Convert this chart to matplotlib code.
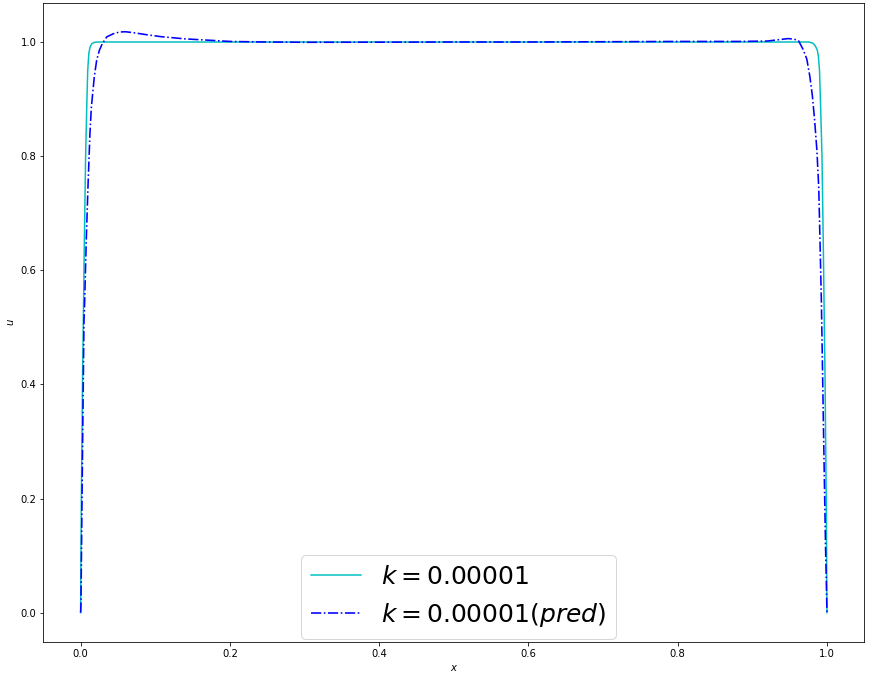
import matplotlib
matplotlib.use("Agg")
import matplotlib.pyplot as plt

# exact solution, k = 0.00001
x_exact = [0.0, 0.0005, 0.001, 0.0018, 0.0025, 0.0036, 0.005, 0.0067, 0.0082, 0.0095,
           0.011, 0.0126, 0.015, 0.018, 0.022, 0.1, 0.3, 0.5, 0.7, 0.9, 0.976,
           0.981, 0.984, 0.987, 0.9885, 0.99, 0.9915, 0.9933, 0.995, 0.9964, 0.9975,
           0.9982, 0.999, 0.9995, 1.0]
u_exact = [0.0, 0.1, 0.2, 0.3, 0.4, 0.51, 0.65, 0.80, 0.886, 0.95,
           0.98, 0.991, 0.997, 0.9993, 1.0, 1.0, 1.0, 1.0, 1.0, 1.0, 1.0,
           0.998, 0.994, 0.986, 0.975, 0.95, 0.886, 0.80, 0.65, 0.51, 0.4,
           0.3, 0.2, 0.1, 0.0]

# network prediction
x_pred = [0.0, 0.0004, 0.0015, 0.0027, 0.0045, 0.0054, 0.0075, 0.0098, 0.0125, 0.0144,
          0.0184, 0.0215, 0.025, 0.029, 0.035, 0.044, 0.052, 0.06, 0.07, 0.09, 0.107,
          0.14, 0.174, 0.2, 0.25, 0.3, 0.4, 0.5, 0.6, 0.7, 0.8, 0.88, 0.92, 0.935,
          0.948, 0.956, 0.962, 0.968, 0.973, 0.977, 0.9805, 0.9835, 0.9865, 0.989, 0.9925,
          0.9956, 0.998, 1.0]
u_pred = [0.0, 0.01, 0.15, 0.3, 0.51, 0.545, 0.65, 0.744, 0.84, 0.886,
          0.94, 0.968, 0.985, 0.997, 1.009, 1.0146, 1.0175, 1.018, 1.0165, 1.0125, 1.0095,
          1.0055, 1.003, 1.001, 1.0, 0.9995, 0.9997, 1.0, 1.0, 1.0005, 1.001, 1.001, 1.0017, 1.004,
          1.006, 1.005, 1.002, 0.987, 0.970, 0.940, 0.905, 0.862, 0.81, 0.744, 0.545,
          0.3, 0.12, 0.0]

labels = [r"$k = 0.00001$", r"$k = 0.00001 (pred)$"]

fig = plt.figure(figsize=(870 / 72, 680 / 72), dpi=72)
ax = fig.add_axes([43.3 / 870, (680 - 641.7) / 680, 821 / 870, 639 / 680])
ax.plot(x_exact, u_exact, color="c", linestyle="-", linewidth=1.5, label=labels[0])
ax.plot(x_pred, u_pred, color="b", linestyle="-.", linewidth=1.6, label=labels[1])
ax.set_xlabel(r"$x$", fontsize=10)
ax.set_ylabel(r"$u$", fontsize=10)
ax.tick_params(labelsize=10)
ax.legend(loc="lower center", bbox_to_anchor=(0.5057, 0.0), borderaxespad=0.1, fontsize=25)
fig.savefig("out.png", dpi=72)
